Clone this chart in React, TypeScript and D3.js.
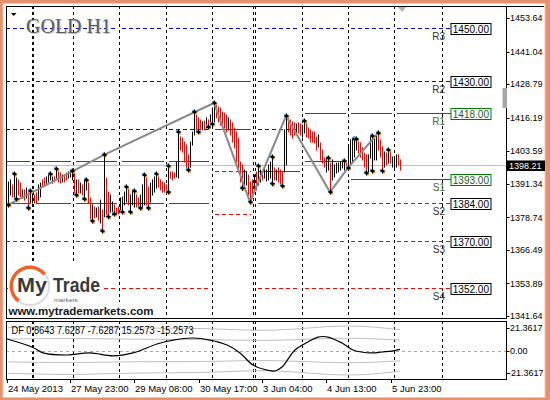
import React from "react";
import * as d3 from "d3";

// ---------- DATA ----------
const highs = [
  1392.0, 1392.8, 1390.9, 1395.0, 1393.5, 1392.8, 1391.6, 1389.0, 1389.0, 1389.7,
  1387.9, 1388.6, 1387.9, 1387.1, 1387.9, 1390.9, 1391.6, 1392.8, 1393.5, 1393.9,
  1394.6, 1395.0, 1393.9, 1393.9, 1396.9, 1395.8, 1395.4, 1394.6, 1394.6, 1395.4,
  1395.8, 1396.5, 1396.1, 1395.4, 1392.8, 1392.8, 1391.6, 1390.9, 1392.8, 1392.8,
  1391.6, 1386.0, 1383.4, 1382.6, 1382.2, 1382.6, 1385.2, 1381.5, 1402.2, 1393.5,
  1388.2, 1387.1, 1384.5, 1383.4, 1382.2, 1382.6, 1386.0, 1386.4, 1388.2, 1390.1,
  1389.7, 1387.1, 1389.0, 1388.6, 1387.1, 1386.0, 1387.1, 1390.9, 1394.6, 1393.5,
  1390.1, 1391.6, 1392.8, 1393.9, 1395.0, 1393.9, 1392.8, 1392.0, 1391.6, 1390.9,
  1398.0, 1395.8, 1395.8, 1395.4, 1399.5, 1410.8, 1408.9, 1408.5, 1407.0, 1405.9,
  1402.2, 1407.0, 1410.8, 1418.3, 1417.2, 1416.1, 1415.3, 1414.6, 1414.9, 1416.1,
  1415.3, 1417.2, 1419.8, 1421.7, 1421.3, 1420.2, 1419.8, 1418.3, 1417.9, 1417.2,
  1416.1, 1415.3, 1414.2, 1412.3, 1410.8, 1408.5, 1399.5, 1398.4, 1396.5, 1395.8,
  1394.6, 1392.0, 1392.8, 1394.6, 1395.8, 1398.0, 1396.5, 1395.8, 1397.3, 1396.5,
  1398.4, 1399.5, 1401.4, 1397.3, 1396.5, 1397.3, 1396.5, 1395.8, 1411.6, 1416.8,
  1416.1, 1415.3, 1414.6, 1414.2, 1413.8, 1414.2, 1413.8, 1413.4, 1414.9, 1414.2,
  1412.3, 1411.6, 1410.8, 1410.8, 1408.9, 1409.7, 1406.7, 1404.0, 1401.0, 1401.4,
  1401.0, 1399.1, 1400.3, 1398.4, 1399.1, 1399.1, 1399.5, 1400.3, 1399.9, 1399.5,
  1405.2, 1407.8, 1408.5, 1408.2, 1408.2, 1407.0, 1406.7, 1404.8, 1402.9, 1402.2,
  1402.2, 1408.9, 1409.3, 1408.9, 1409.7, 1410.4, 1407.8, 1405.2, 1403.3, 1402.9,
  1404.0, 1403.3, 1401.4, 1401.0, 1402.2, 1402.2, 1400.3,
];

const lows = [
  1383.4, 1387.1, 1386.4, 1386.0, 1385.6, 1387.1, 1386.4, 1386.0, 1385.2, 1386.0,
  1382.2, 1384.1, 1384.1, 1384.1, 1384.1, 1385.2, 1386.4, 1390.1, 1390.9, 1391.6,
  1392.0, 1392.8, 1391.6, 1392.0, 1393.5, 1392.0, 1391.6, 1392.0, 1392.0, 1392.8,
  1393.5, 1393.9, 1392.8, 1387.9, 1387.1, 1387.9, 1387.9, 1387.1, 1385.6, 1389.0,
  1384.1, 1377.7, 1377.3, 1378.5, 1378.9, 1377.7, 1376.6, 1373.6, 1378.9, 1378.9,
  1378.9, 1380.7, 1379.6, 1380.0, 1379.6, 1380.0, 1381.5, 1380.7, 1383.4, 1384.5,
  1383.4, 1380.7, 1383.4, 1382.6, 1382.6, 1382.2, 1382.2, 1382.6, 1383.4, 1383.4,
  1382.2, 1384.5, 1387.1, 1388.2, 1389.7, 1390.1, 1389.0, 1388.2, 1388.2, 1387.9,
  1388.2, 1393.5, 1392.8, 1393.5, 1393.9, 1393.5, 1404.0, 1403.3, 1399.5, 1396.5,
  1396.5, 1397.6, 1405.9, 1409.7, 1411.6, 1410.8, 1411.6, 1411.6, 1411.6, 1412.3,
  1412.7, 1413.4, 1413.8, 1414.6, 1416.1, 1414.6, 1413.4, 1412.3, 1412.3, 1410.8,
  1411.6, 1409.7, 1407.0, 1404.8, 1399.5, 1395.8, 1392.0, 1389.7, 1390.1, 1390.9,
  1387.1, 1384.5, 1386.0, 1388.2, 1389.0, 1390.9, 1392.0, 1392.8, 1393.5, 1392.4,
  1392.8, 1393.5, 1391.3, 1392.8, 1392.8, 1392.0, 1390.9, 1390.5, 1395.8, 1398.4,
  1410.8, 1409.7, 1408.5, 1409.7, 1410.4, 1410.4, 1409.7, 1408.9, 1410.4, 1408.9,
  1408.5, 1407.0, 1407.0, 1406.7, 1404.0, 1405.2, 1400.3, 1399.1, 1397.6, 1395.8,
  1396.5, 1388.2, 1392.8, 1393.9, 1395.4, 1395.8, 1396.5, 1397.3, 1396.5, 1397.3,
  1397.3, 1398.4, 1399.1, 1401.4, 1404.0, 1402.9, 1401.4, 1400.3, 1397.6, 1395.4,
  1395.8, 1401.0, 1396.1, 1400.3, 1400.3, 1404.0, 1401.4, 1396.1, 1397.6, 1398.4,
  1399.1, 1399.1, 1397.6, 1397.3, 1397.6, 1398.4, 1396.5,
];

const upBar = [
  1, 1, 0, 1, 1, 0, 0, 1, 0, 1,
  0, 1, 1, 0, 0, 1, 1, 0, 0, 1,
  1, 1, 1, 0, 1, 0, 0, 1, 0, 0,
  1, 1, 1, 0, 1, 0, 1, 0, 1, 1,
  0, 0, 1, 0, 1, 0, 1, 0, 1, 0,
  0, 1, 1, 0, 0, 0, 1, 1, 1, 1,
  0, 1, 1, 1, 0, 0, 1, 1, 1, 0,
  0, 1, 1, 1, 1, 0, 0, 0, 0, 0,
  1, 0, 0, 0, 1, 1, 0, 0, 0, 0,
  0, 1, 1, 1, 0, 0, 0, 1, 0, 1,
  0, 1, 1, 1, 0, 0, 0, 0, 0, 0,
  1, 0, 0, 0, 0, 0, 0, 0, 1, 1,
  0, 0, 0, 1, 0, 1, 1, 0, 1, 1,
  1, 1, 1, 0, 1, 0, 0, 0, 1, 1,
  0, 0, 0, 0, 1, 0, 0, 1, 1, 0,
  0, 0, 0, 0, 0, 1, 0, 0, 0, 1,
  1, 0, 1, 1, 1, 1, 1, 1, 1, 0,
  1, 1, 1, 1, 1, 0, 0, 0, 0, 0,
  1, 1, 1, 1, 1, 0, 0, 0, 1, 0,
  1, 0, 1, 1, 1, 0, 0,
];

const fractalUpBars = [3, 11, 21, 24, 32, 39, 48, 59, 63, 68, 74, 80, 85, 93, 103, 125, 132, 139, 148, 160, 168, 173, 174, 182, 185, 190];
const fractalDownBars = [0, 4, 10, 34, 38, 42, 47, 50, 53, 57, 61, 66, 70, 80, 90, 95, 100, 102, 117, 121, 132, 137, 161, 170, 179, 182, 187];

const zigzagBars = [0, 48, 103, 121, 139, 161, 170, 185];
const zigzagIsHigh = [false, true, true, false, true, false, false, true];

const priceTicks = [1453.64, 1441.04, 1428.79, 1416.19, 1403.59, 1391.34, 1378.74, 1366.49, 1353.89, 1341.64];
const priceMin = 1341.64;
const priceMax = 1453.64;
const currentPrice = 1398.21;

const timeLabels = ["24 May 2013", "27 May 23:00", "29 May 08:00", "30 May 17:00", "3 Jun 04:00", "4 Jun 13:00", "5 Jun 23:00"];
const timeLabelBars = [-0.5, 31, 63, 95.5, 127, 159, 191.5];

const separatorBars = [11.85, 12.65, 32.65, 55.65, 78.85, 101.85, 122.65, 123.65, 146.85, 169.85, 193, 216.85];

// [fromBar, toBar, price, kind]  b = blue dashed, g = green solid, r = red dashed
const pivotSegments: [number, number, number, string][] = [
  [-1, 221.5, 1450, "b"],
  [-1, 101, 1430, "b"], [102, 121.5, 1430, "g"], [123.5, 221.5, 1430, "b"],
  [147, 221.5, 1418, "g"],
  [-1, 101, 1412, "b"], [102, 121.5, 1412, "g"], [123.5, 146.5, 1412, "b"],
  [-1, 100.5, 1400, "g"], [147, 169.5, 1400, "g"],
  [102, 121.5, 1396, "r"], [123.5, 146, 1396, "g"],
  [170, 221.5, 1393, "g"],
  [-1, 100.5, 1384, "g"], [123.5, 146, 1384, "g"], [147, 221.5, 1384, "r"],
  [102, 121.5, 1380, "r"],
  [-1, 221.5, 1370, "r"],
  [-1, 100.5, 1352, "r"], [123.5, 221.5, 1352, "r"],
];

const levelNames = ["R3", "R2", "R1", "S1", "S2", "S3", "S4"];
const levelValues = [1450, 1430, 1418, 1393, 1384, 1370, 1352];
const levelIsGreen = [false, false, true, true, false, false, false];

const dfBars = [-0.5, 12, 17.5, 29.5, 41, 52.5, 62.5, 74.5, 82.5, 92.5, 101, 109.5, 116, 122.5, 129.5, 133.5, 137, 143.5, 150, 155, 160, 167, 172.5, 182, 187, 192, 196];
const dfValues = [8.5, 2.6, -1.7, -3.3, -1.8, -4.0, -1.8, 4.8, 7.7, 9.2, 7.7, 4.0, -1.8, -10.7, -14.4, -15.1, -12.2, 0.4, 6.3, 9.9, 9.9, 5.5, 0.4, -1.8, -1.1, -0.4, 0.8643];
const bandBars = [0, 32, 66, 101, 133, 167, 196];
const bandInner = [8.4, 8.8, 8.3, 8.0, 7.5, 9.0, 7.6287];
const indMax = 21.3617;
const dfTitle = "DF 0.8643 7.6287 -7.6287 15.2573 -15.2573";
const indTickValues = [21.3617, 0, -21.3617];
const indTickLabels = ["21.3617", "0.00", "-21.3617"];

// ---------- COMPONENT ----------
const SANS = "'Liberation Sans', Arial, sans-serif";

export default function App() {
  const plotL = 6, plotR = 506, plotT = 6, plotB = 318;
  const indT = 321, indB = 379;
  const n = highs.length;
  const xs = d3.scaleLinear().domain([0, n - 1]).range([8, 400]);
  const ys = d3.scaleLinear().domain([priceMin, priceMax]).range([316, 18]);
  const yi = d3.scaleLinear().domain([-indMax, indMax]).range([379.5, 321.5]);
  const px = (i: number) => Math.round(xs(i)) + 0.5;
  const py = (p: number) => Math.round(ys(p)) + 0.5;

  const sepX = separatorBars.map(px);

  const segPieces: { x1: number; x2: number; y: number; kind: string }[] = [];
  pivotSegments.forEach(([a, b, p, k]) => {
    const x1 = Math.max(plotL, xs(a));
    const x2 = xs(b);
    let cur = x1;
    sepX.filter((s) => s > x1 && s < x2 && s < 440).sort((u, v) => u - v).forEach((s) => {
      if (s - 2.5 > cur) segPieces.push({ x1: cur, x2: s - 2.5, y: py(p), kind: k });
      cur = Math.max(cur, s + 2.5);
    });
    if (x2 > cur) segPieces.push({ x1: cur, x2, y: py(p), kind: k });
  });

  const zz = d3.line<number>()
    .x((i) => xs(zigzagBars[i]))
    .y((i) => ys(zigzagIsHigh[i] ? highs[zigzagBars[i]] : lows[zigzagBars[i]]))(zigzagBars.map((_, i) => i));

  const dfLine = d3.line<number>()
    .x((i) => xs(dfBars[i]))
    .y((i) => yi(dfValues[i]))
    .curve(d3.curveCatmullRom)(dfBars.map((_, i) => i));

  const bandLine = (mult: number) =>
    d3.line<number>()
      .x((i) => xs(bandBars[i]))
      .y((i) => yi(bandInner[i] * mult))
      .curve(d3.curveNatural)(bandBars.map((_, i) => i));

  const ringOrange = d3.arc()({ innerRadius: 17, outerRadius: 20.5, startAngle: -2.5, endAngle: 0.9 } as any);
  const ringGray = d3.arc()({ innerRadius: 18, outerRadius: 20, startAngle: 0.9, endAngle: 3.78 } as any);

  const Fractal = ({ x, y }: { x: number; y: number }) => (
    <g transform={`translate(${x},${y})`}>
      <circle cx={1.1} cy={1.1} r={1.6} fill="#f5a030" />
      <circle cx={-1.1} cy={-1.1} r={1.5} fill="#5fb4ff" />
      <path d="M0,-3L1,-1L3,0L1,1L0,3L-1,1L-3,0L-1,-1Z" fill="#000" />
    </g>
  );

  const yCur = ys(currentPrice);
  const indLabelY = [328, yi(0), 373];

  return (
    <svg width={550} height={400} style={{ position: "absolute", left: 0, top: 0 }} fontFamily={SANS}>
      <defs>
        <clipPath id="mainClip"><rect x={plotL} y={plotT} width={plotR - plotL} height={plotB - plotT} /></clipPath>
        <clipPath id="indClip"><rect x={plotL} y={indT} width={plotR - plotL} height={indB - indT} /></clipPath>
      </defs>
      {/* frame */}
      <rect x={0} y={0} width={550} height={400} fill="#e4916e" />
      <rect x={2.5} y={3} width={543} height={395} fill="#f3c2a8" />
      <rect x={3.5} y={4} width={541} height={393} fill="#ffffff" />

      {/* main panel */}
      <g clipPath="url(#mainClip)">
        {sepX.map((x, i) => (
          <line key={"s" + i} x1={x} x2={x} y1={plotT} y2={plotB} stroke="#000" strokeDasharray="3,3" />
        ))}
        {segPieces.map((s, i) => (
          <line key={"p" + i} x1={s.x1} x2={s.x2} y1={s.y} y2={s.y}
            stroke={s.kind === "b" ? "#0000ff" : s.kind === "r" ? "#ff0000" : "#007a00"}
            strokeDasharray={s.kind === "g" ? undefined : "4,3"} />
        ))}
        <line x1={plotL} x2={plotR} y1={Math.round(yCur) + 0.5} y2={Math.round(yCur) + 0.5} stroke="#c0c0c0" />
        {highs.map((h, i) => (
          <line key={"b" + i} x1={px(i)} x2={px(i)} y1={ys(h) - 0.5} y2={ys(lows[i]) + 0.5}
            stroke={upBar[i] ? "#000000" : "#ff0000"} />
        ))}
        <path d={zz || ""} fill="none" stroke="#8a8a8a" strokeWidth={2} />
        {fractalUpBars.map((b) => <Fractal key={"fu" + b} x={px(b)} y={ys(highs[b])} />)}
        {fractalDownBars.map((b) => <Fractal key={"fd" + b} x={px(b)} y={ys(lows[b])} />)}
      </g>

      {/* level labels */}
      {levelValues.map((v, i) => {
        const y = py(v);
        const col = levelIsGreen[i] ? "#007a00" : "#000";
        return (
          <g key={"lv" + i}>
            <text x={445} y={y + 11} fontSize={10} textAnchor="end" fill={levelIsGreen[i] ? "#3f6b3f" : "#333"}>{levelNames[i]}</text>
            <rect x={451} y={y - 5} width={40} height={11} fill="#fff" stroke={col} />
            <text x={452.8} y={y + 4.3} fontSize={10} fill={levelIsGreen[i] ? "#1f5a1f" : "#000"}>{v.toFixed(2)}</text>
          </g>
        );
      })}

      {/* logo */}
      <rect x={8} y={263} width={95} height={39} fill="#fff" />
      <rect x={8} y={302} width={148} height={15.5} fill="#fff" />
      <g transform="translate(30,286)">
        <path d={ringGray || ""} fill="#dcdcdc" />
        <path d={ringOrange || ""} fill="#f2612a" />
      </g>
      <text x={17} y={292} fontSize={20} fontWeight="bold" fill="#3a3a3a" textLength={30} lengthAdjust="spacingAndGlyphs">My</text>
      <text x={53} y={292} fontSize={20} fontWeight="bold" fill="#3a3a3a" textLength={47} lengthAdjust="spacingAndGlyphs">Trade</text>
      <text x={54} y={301.5} fontSize={6} fill="#666" textLength={24} lengthAdjust="spacingAndGlyphs">markets</text>
      <text x={8.5} y={315} fontSize={11.5} fontWeight="bold" fill="#1a1a1a" textLength={145} lengthAdjust="spacing">www.mytrademarkets.com</text>

      {/* title */}
      <text x={27} y={34} fontSize={20} fontFamily="'Liberation Serif', 'Times New Roman', serif" fill="#c4c4c4">GOLD H1</text>
      <text x={26} y={33} fontSize={20} fontFamily="'Liberation Serif', 'Times New Roman', serif" fill="#5c5c5c">GOLD H1</text>
      <path d="M11,13L16.5,13L13.75,16Z" fill="#000" />
      <path d="M397,6L407,6L402,12Z" fill="#b4b4b4" />

      {/* main panel border & price axis */}
      <line x1={plotL} x2={544} y1={plotT + 0.5} y2={plotT + 0.5} stroke="#000" />
      <rect x={plotL + 0.5} y={plotT + 0.5} width={plotR - plotL} height={plotB - plotT} fill="none" stroke="#000" />
      {priceTicks.map((t) => (
        <g key={"pt" + t}>
          <line x1={plotR} x2={plotR + 3.5} y1={py(t)} y2={py(t)} stroke="#000" />
          <text x={510} y={ys(t) + 3.3} fontSize={9} fill="#000">{t.toFixed(2)}</text>
        </g>
      ))}
      <rect x={502.5} y={88} width={4.5} height={20} fill="#a8a8a8" />
      <rect x={507} y={yCur - 5} width={38} height={10.5} fill="#000" />
      <text x={509} y={yCur + 3.3} fontSize={9} fill="#fff">{currentPrice.toFixed(2)}</text>

      {/* indicator panel */}
      <g clipPath="url(#indClip)">
        {sepX.map((x, i) => (
          <line key={"si" + i} x1={x} x2={x} y1={indT} y2={indB} stroke="#000" strokeDasharray="3,3" />
        ))}
        <line x1={plotL} x2={plotR} y1={Math.round(yi(0)) + 0.5} y2={Math.round(yi(0)) + 0.5} stroke="#a8a8a8" strokeDasharray="3,3" />
        {[2, 1, -1, -2].map((m) => (
          <path key={"band" + m} d={bandLine(m) || ""} fill="none" stroke="#c0c0c0" />
        ))}
        <path d={dfLine || ""} fill="none" stroke="#000" strokeWidth={1.2} />
      </g>
      <text x={11.5} y={334} fontSize={10} fill="#000" textLength={182} lengthAdjust="spacingAndGlyphs">{dfTitle}</text>
      <rect x={plotL + 0.5} y={indT + 0.5} width={plotR - plotL} height={indB - indT} fill="none" stroke="#000" />
      {indTickValues.map((v, i) => (
        <g key={"it" + i}>
          <line x1={plotR} x2={plotR + 3.5} y1={Math.round(indLabelY[i]) + 0.5} y2={Math.round(indLabelY[i]) + 0.5} stroke="#000" />
          <text x={v < 0 ? 508 : 510} y={indLabelY[i] + 3.3} fontSize={9} fill="#000">{indTickLabels[i]}</text>
        </g>
      ))}

      {/* time axis */}
      {timeLabels.map((t, i) => {
        const x = px(timeLabelBars[i]);
        return (
          <g key={"tl" + i}>
            <line x1={x} x2={x} y1={indB} y2={indB + 4} stroke="#000" />
            <text x={x + 0.5} y={392} fontSize={9.5} fill="#000">{t}</text>
          </g>
        );
      })}
    </svg>
  );
}
